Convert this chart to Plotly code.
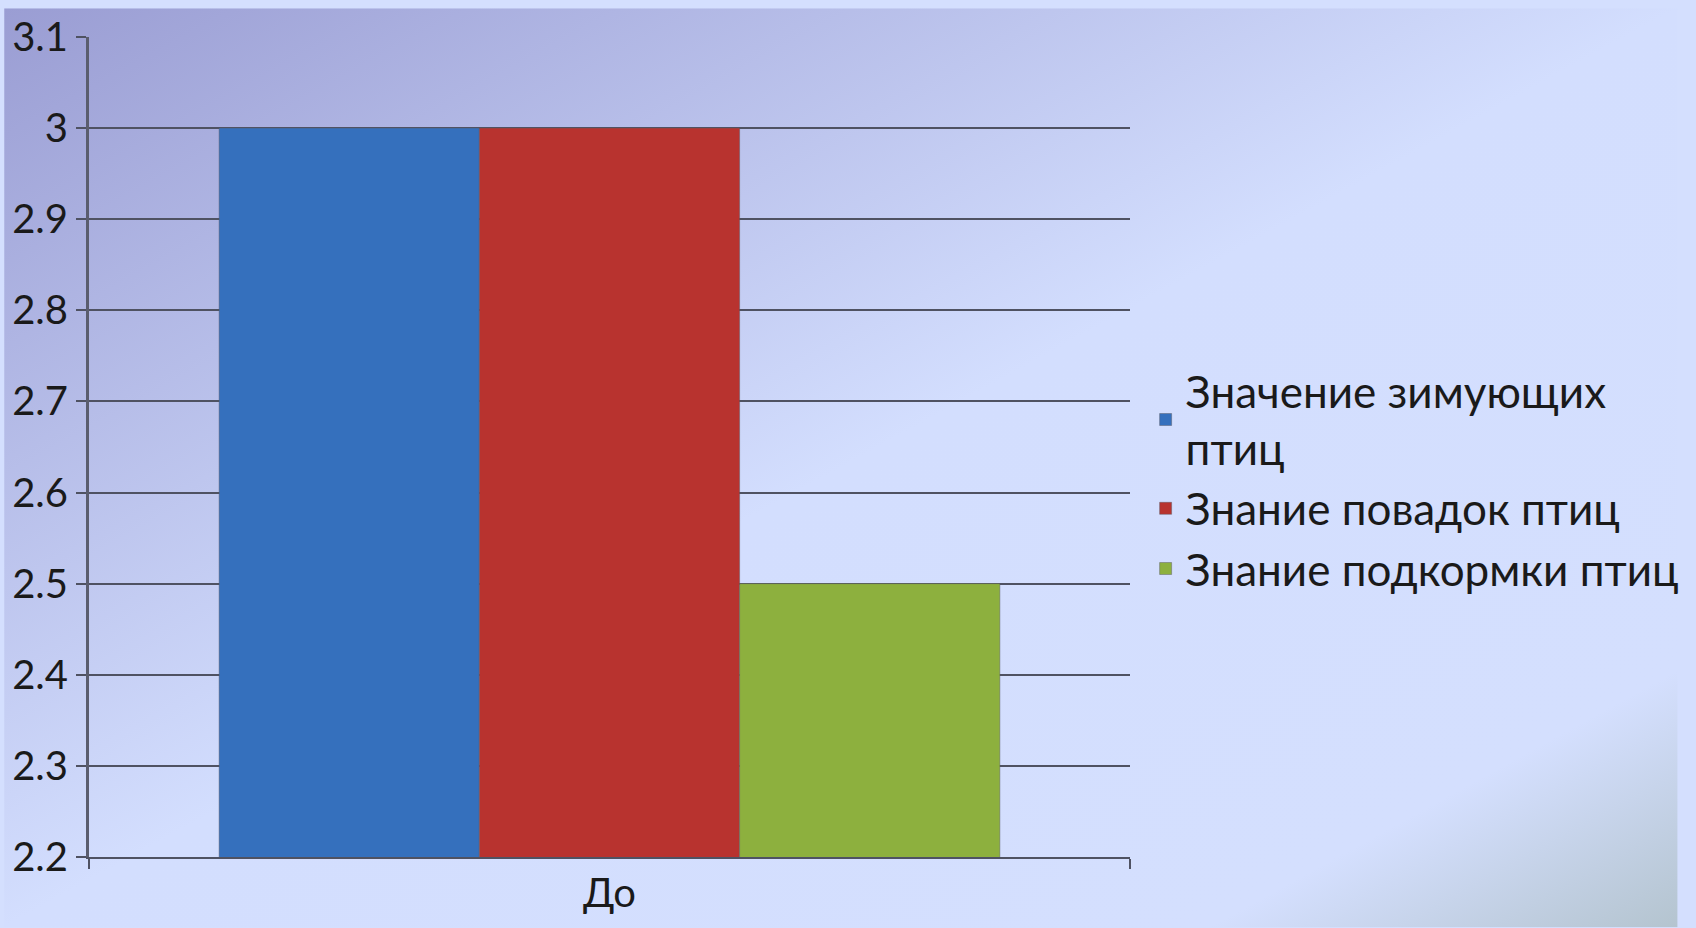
import base64
import plotly.graph_objects as go


# --------------------------------------------------
# Data
# --------------------------------------------------
categories = ["До"]

series_names = [
    "Значение зимующих<br>птиц",
    "Знание повадок птиц",
    "Знание подкормки птиц",
]

winter_birds = [3]
bird_habits = [3]
bird_feeding = [2.5]

colors = ["#3570bd", "#b8332f", "#8db03e"]

y_ticks = [2.2, 2.3, 2.4, 2.5, 2.6, 2.7, 2.8, 2.9, 3.0, 3.1]


# --------------------------------------------------
# Background gradient (slide style)
# --------------------------------------------------
bg_svg = """<svg xmlns='http://www.w3.org/2000/svg' width='1696' height='928'>
<defs>
<linearGradient id='g' x1='0' y1='0' x2='1' y2='1'>
<stop offset='0' stop-color='#9a9dd3'/>
<stop offset='0.5' stop-color='#d3defe'/>
<stop offset='0.86' stop-color='#d4dffe'/>
<stop offset='1' stop-color='#b4c4cf'/>
</linearGradient>
</defs>
<rect width='1696' height='928' fill='url(#g)'/>
</svg>"""
bg_uri = "data:image/svg+xml;base64," + base64.b64encode(bg_svg.encode()).decode()


# --------------------------------------------------
# Chart
# --------------------------------------------------
fig = go.Figure()

for name, values, color in zip(
    series_names, [winter_birds, bird_habits, bird_feeding], colors
):
    fig.add_trace(
        go.Bar(
            x=categories,
            y=values,
            name=name,
            marker=dict(
                color=color,
                line=dict(color="rgba(90,90,100,0.45)", width=1),
            ),
        )
    )

W, H = 1696, 928
ml, mr, mt, mb = 86, 555, 29, 71
pw, ph = W - ml - mr, H - mt - mb

fig.update_layout(
    width=W,
    height=H,
    margin=dict(l=ml, r=mr, t=mt, b=mb),
    barmode="group",
    bargap=0.25,
    bargroupgap=0,
    paper_bgcolor="#d4dffe",
    plot_bgcolor="rgba(0,0,0,0)",
    font=dict(family="Lato, 'Open Sans', sans-serif", size=40, color="#1a1a1a"),
    images=[
        dict(
            source=bg_uri,
            xref="paper",
            yref="paper",
            x=-ml / pw,
            y=1 + mt / ph,
            sizex=W / pw,
            sizey=H / ph,
            sizing="stretch",
            xanchor="left",
            yanchor="top",
            layer="below",
        )
    ],
    legend=dict(
        x=1.015,
        y=0.46,
        xanchor="left",
        yanchor="middle",
        bgcolor="rgba(0,0,0,0)",
        font=dict(size=44, color="#1a1a1a"),
        itemwidth=30,
        tracegroupgap=2,
        valign="middle",
    ),
    showlegend=True,
)

fig.update_yaxes(
    range=[2.2, 3.1],
    tickvals=y_ticks,
    showgrid=True,
    gridcolor="#4f5262",
    gridwidth=2,
    showline=True,
    linecolor="#5a5d6e",
    linewidth=3,
    ticks="outside",
    ticklen=10,
    tickwidth=2,
    tickcolor="#4f5262",
    zeroline=False,
    tickfont=dict(size=40),
)

fig.update_xaxes(
    showline=True,
    linecolor="#4f5262",
    linewidth=2,
    showgrid=False,
    ticks="outside",
    tickson="boundaries",
    ticklen=10,
    tickwidth=2,
    tickcolor="#4f5262",
    tickfont=dict(size=40),
)

fig.write_html(
    "out.html",
    config={"displayModeBar": False},
    post_script=(
        "document.documentElement.style.background='#d4dffe';"
        "document.body.style.margin='0';"
        "document.body.style.overflow='hidden';"
        "var d=document.getElementById('{plot_id}');"
        "d.style.position='absolute';d.style.top='0';d.style.left='0';"
    ),
)
